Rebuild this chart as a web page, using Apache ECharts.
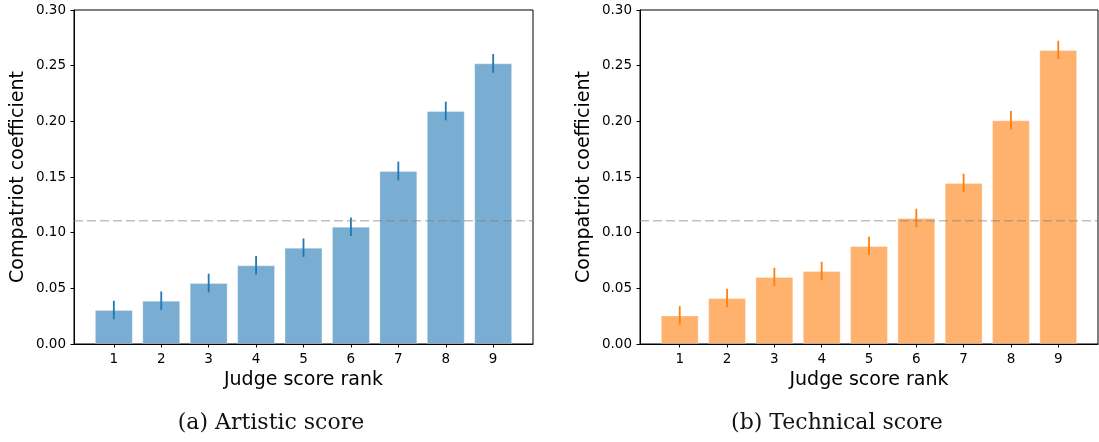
<!DOCTYPE html>
<html>
<head>
<meta charset="utf-8">
<script src="https://cdn.jsdelivr.net/npm/echarts@6/dist/echarts.min.js"></script>
<style>
html,body{margin:0;padding:0;background:#fff;}
#chart{width:1099px;height:442px;}
</style>
</head>
<body>
<div id="chart"></div>
<script>
const categories = [1, 2, 3, 4, 5, 6, 7, 8, 9];
const artisticValues = [0.0305, 0.0389, 0.0548, 0.0707, 0.0865, 0.1054, 0.1554, 0.2093, 0.2521];
const artisticErrors = [0.0083, 0.0083, 0.0083, 0.0083, 0.0083, 0.0083, 0.0084, 0.0084, 0.0084];
const technicalValues = [0.0257, 0.0413, 0.0602, 0.0656, 0.0880, 0.1132, 0.1446, 0.2009, 0.2641];
const technicalErrors = [0.0083, 0.0083, 0.0083, 0.0083, 0.0083, 0.0083, 0.0083, 0.0083, 0.0083];
const baselineValue = 0.1108;
const yTicks = [0, 0.05, 0.10, 0.15, 0.20, 0.25, 0.30];
const panelTitles = ['(a) Artistic score', '(b) Technical score'];
const xAxisTitle = 'Judge score rank';
const yAxisTitle = 'Compatriot coefficient';

const chart = echarts.init(document.getElementById('chart'), null, {renderer: 'canvas'});

const grids = [
  {left: 74, top: 10, width: 459, height: 334},
  {left: 640, top: 10, width: 458, height: 334}
];
const xMin = 0.16, xMax = 9.84;
const colors = ['#1f77b4', '#ff7f0e'];
const sans = '"DejaVu Sans", sans-serif';
const serif = '"DejaVu Serif", serif';

function makeX(i) {
  return {
    type: 'value', gridIndex: i, min: xMin, max: xMax,
    name: xAxisTitle, nameLocation: 'middle', nameGap: 27,
    nameTextStyle: {fontFamily: sans, fontSize: 19, color: '#000'},
    axisLine: {show: true, onZero: false, lineStyle: {color: '#000', width: 1}},
    axisTick: {show: true, length: 3.5, inside: false, customValues: categories, lineStyle: {color: '#000'}},
    axisLabel: {show: true, margin: 8, customValues: categories, fontFamily: sans, fontSize: 13.5, color: '#000'},
    splitLine: {show: false}
  };
}
function makeY(i) {
  return {
    type: 'value', gridIndex: i, min: 0, max: 0.3, interval: 0.05,
    name: yAxisTitle, nameLocation: 'middle', nameGap: 46, nameRotate: 90,
    nameTextStyle: {fontFamily: sans, fontSize: 19, color: '#000'},
    axisLine: {show: true, lineStyle: {color: '#000', width: 1}},
    axisTick: {show: true, length: 3.5, lineStyle: {color: '#000'}},
    axisLabel: {margin: 8, fontFamily: sans, fontSize: 13.5, color: '#000',
      formatter: v => v.toFixed(2)},
    splitLine: {show: false}
  };
}

function barSeries(i, values) {
  const bw = grids[i].width / (xMax - xMin) * 0.8;
  return {
    type: 'bar', xAxisIndex: i, yAxisIndex: i,
    data: categories.map((c, k) => [c, values[k]]),
    barWidth: bw,
    itemStyle: {color: colors[i], opacity: 0.6, borderColor: 'rgba(255,255,255,0.5)', borderWidth: 1},
    emphasis: {disabled: true},
    silent: true,
    z: 2
  };
}
function baselineSeries(i) {
  return {
    type: 'custom', xAxisIndex: i, yAxisIndex: i,
    data: [[xMin, xMax, baselineValue]],
    encode: {x: [0, 1], y: 2},
    silent: true, z: 10,
    renderItem: function (params, api) {
      const a = api.coord([api.value(0), api.value(2)]);
      const b = api.coord([api.value(1), api.value(2)]);
      return {type: 'line', shape: {x1: a[0], y1: a[1], x2: b[0], y2: b[1]},
        style: {stroke: 'rgba(128,128,128,0.5)', lineWidth: 1.5, lineDash: [9, 4]}};
    }
  };
}
function errSeries(i, values, errs) {
  return {
    type: 'custom', xAxisIndex: i, yAxisIndex: i,
    data: categories.map((c, k) => [c, values[k] - errs[k], values[k] + errs[k]]),
    encode: {x: 0, y: [1, 2]},
    silent: true,
    z: 4,
    renderItem: function (params, api) {
      const x = api.value(0);
      const lo = api.coord([x, api.value(1)]);
      const hi = api.coord([x, api.value(2)]);
      return {type: 'line', shape: {x1: lo[0], y1: lo[1], x2: hi[0], y2: hi[1]},
        style: {stroke: colors[i], lineWidth: 1.8}};
    }
  };
}

chart.setOption({
  animation: false,
  backgroundColor: '#fff',
  grid: grids.map(g => Object.assign({show: true, borderColor: '#000', borderWidth: 1, backgroundColor: 'transparent'}, g)),
  xAxis: [makeX(0), makeX(1)],
  yAxis: [makeY(0), makeY(1)],
  series: [
    barSeries(0, artisticValues), errSeries(0, artisticValues, artisticErrors), baselineSeries(0),
    barSeries(1, technicalValues), errSeries(1, technicalValues, technicalErrors), baselineSeries(1)
  ],
  graphic: [
    {type: 'text', x: 271, y: 423, style: {text: panelTitles[0], align: 'center', verticalAlign: 'middle', font: '22px ' + serif, fill: '#111'}},
    {type: 'text', x: 837, y: 423, style: {text: panelTitles[1], align: 'center', verticalAlign: 'middle', font: '22px ' + serif, fill: '#111'}}
  ]
});
</script>
</body>
</html>
